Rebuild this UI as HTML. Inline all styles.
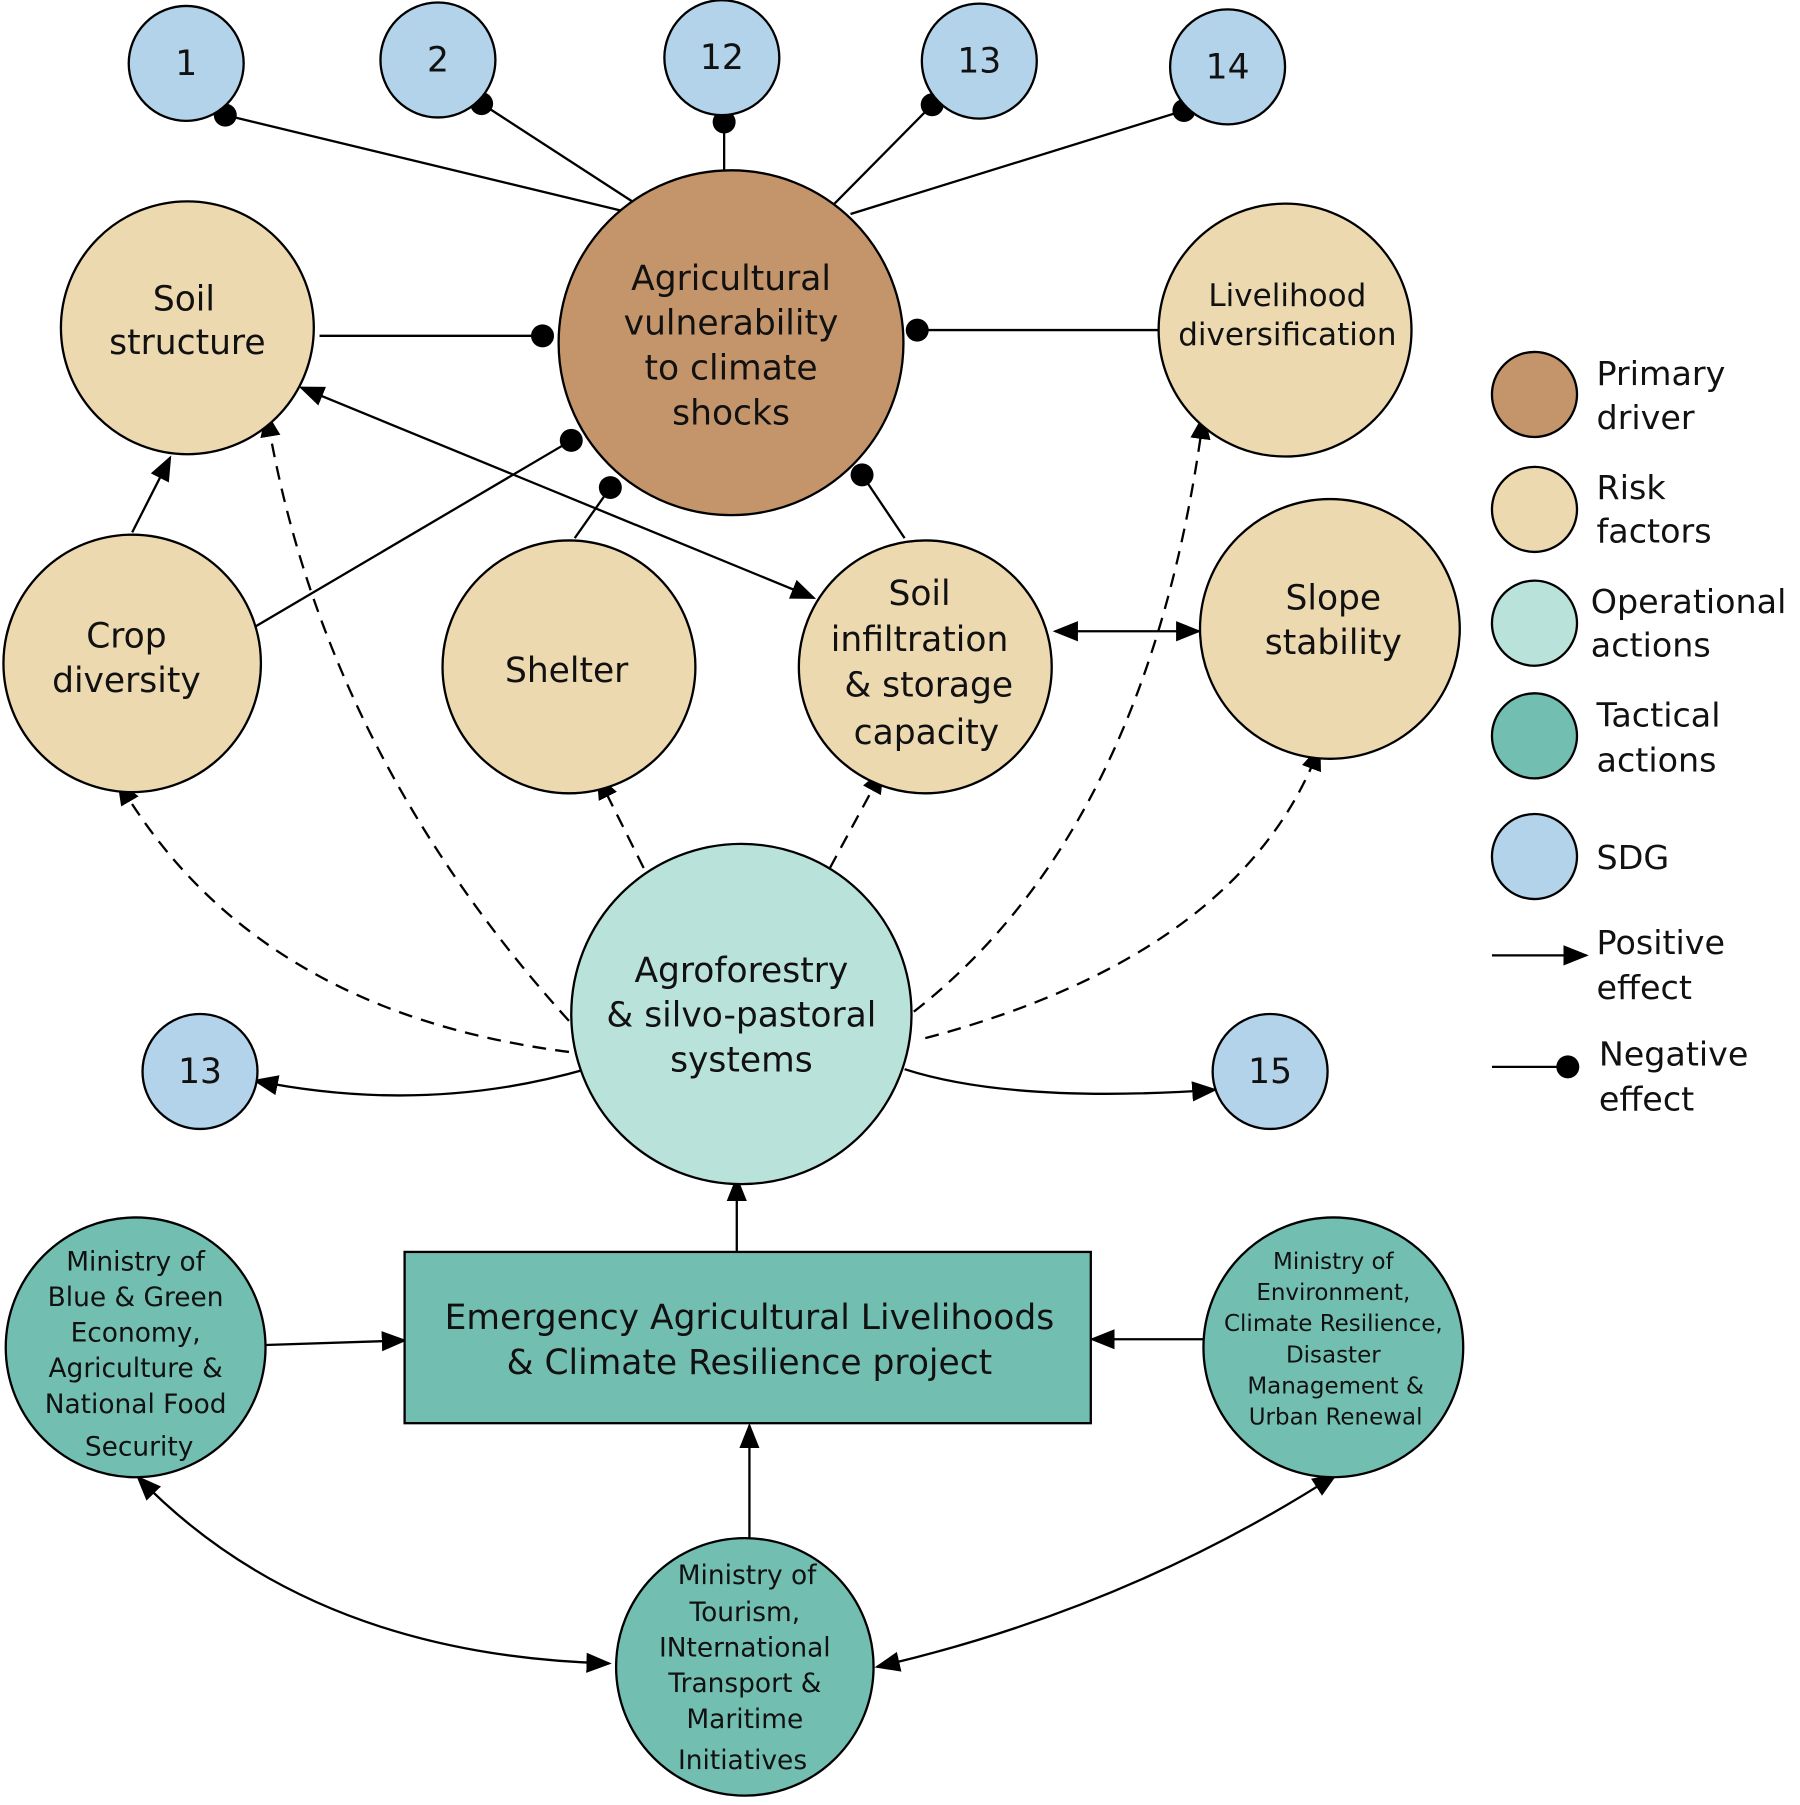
<!DOCTYPE html>
<html><head><meta charset="utf-8"><style>
html,body{margin:0;padding:0;background:#fff;}
svg{display:block;}
text{font-family:"DejaVu Sans","Liberation Sans",sans-serif;fill:#111;text-anchor:middle;}
text.l{text-anchor:start;}
</style></head><body>
<svg width="1800" height="1805" viewBox="0 0 1566 1570" xmlns="http://www.w3.org/2000/svg">
<defs>
<marker id="A" viewBox="0 0 10 10" refX="9" refY="5" markerWidth="22" markerHeight="22" markerUnits="userSpaceOnUse" orient="auto-start-reverse"><path d="M0,1L10,5L0,9z" fill="#000"/></marker>
</defs>
<g stroke="#000" stroke-width="2" fill="none">
<line x1="196" y1="100" x2="540" y2="183"/>
<line x1="419" y1="90" x2="550" y2="175"/>
<line x1="630" y1="106" x2="630" y2="150"/>
<line x1="811" y1="91" x2="725" y2="178"/>
<line x1="1030" y1="96" x2="740" y2="186"/>
<line x1="278" y1="292" x2="472" y2="292"/>
<line x1="1008" y1="287" x2="798" y2="287"/>
<line x1="222" y1="545" x2="497" y2="383"/>
<line x1="500" y1="468" x2="531" y2="424"/>
<line x1="787" y1="468" x2="750" y2="413"/>
<line x1="115" y1="463" x2="148" y2="398" marker-end="url(#A)"/>
<line x1="708" y1="520" x2="262" y2="337" marker-start="url(#A)" marker-end="url(#A)"/>
<line x1="918" y1="549" x2="1043" y2="549" marker-start="url(#A)" marker-end="url(#A)"/>
<path d="M510,930 Q370,970 222,940" marker-end="url(#A)"/>
<path d="M787,930 Q880,960 1057,948" marker-end="url(#A)"/>
<line x1="641" y1="1089" x2="641" y2="1025" marker-end="url(#A)"/>
<line x1="652" y1="1338" x2="652" y2="1240" marker-end="url(#A)"/>
<line x1="231" y1="1170" x2="352" y2="1166" marker-end="url(#A)"/>
<line x1="1047" y1="1165" x2="950" y2="1165" marker-end="url(#A)"/>
<path d="M120,1285 Q270,1440 530,1447" marker-start="url(#A)" marker-end="url(#A)"/>
<path d="M1162,1283 Q980,1400 763,1450" marker-start="url(#A)" marker-end="url(#A)"/>
<g stroke-dasharray="12,8">
<path d="M495,915 Q220,880 103,680" marker-end="url(#A)"/>
<path d="M495,888 Q280,650 232,360" marker-end="url(#A)"/>
<line x1="560" y1="755" x2="520" y2="675" marker-end="url(#A)"/>
<line x1="722" y1="755" x2="768" y2="670" marker-end="url(#A)"/>
<path d="M795,880 Q1000,720 1047,362" marker-end="url(#A)"/>
<path d="M805,903 Q1080,830 1148,650" marker-end="url(#A)"/>
</g>
<line x1="1298" y1="831" x2="1380" y2="831" marker-end="url(#A)"/>
<line x1="1298" y1="928" x2="1362" y2="928"/>
</g>
<g fill="#000">
<circle cx="196" cy="100" r="10"/><circle cx="419" cy="90" r="10"/><circle cx="630" cy="106" r="10"/>
<circle cx="811" cy="91" r="10"/><circle cx="1030" cy="96" r="10"/><circle cx="472" cy="292" r="10"/>
<circle cx="798" cy="287" r="10"/><circle cx="497" cy="383" r="10"/><circle cx="531" cy="424" r="10"/>
<circle cx="750" cy="413" r="10"/><circle cx="1364" cy="928" r="10"/>
</g>
<g stroke="#000" stroke-width="2">
<g fill="#b3d3ea">
<circle cx="162" cy="55" r="50"/><circle cx="381" cy="52" r="50"/><circle cx="628" cy="50" r="50"/>
<circle cx="852" cy="53" r="50"/><circle cx="1068" cy="58" r="50"/>
<circle cx="174" cy="932" r="50"/><circle cx="1105" cy="932" r="50"/>
<circle cx="1335" cy="745" r="37"/>
</g>
<circle cx="636" cy="298" r="150" fill="#c4956a"/>
<g fill="#ecd9b0">
<circle cx="163" cy="285" r="110"/><circle cx="1118" cy="287" r="110"/>
<circle cx="115" cy="577" r="112"/><circle cx="495" cy="580" r="110"/>
<circle cx="805" cy="580" r="110"/><circle cx="1157" cy="547" r="113"/>
<circle cx="1335" cy="443" r="37"/>
</g>
<circle cx="645" cy="882" r="148" fill="#b9e3da"/>
<circle cx="1335" cy="542" r="37" fill="#b9e3da"/>
<g fill="#72bfb2">
<rect x="352" y="1089" width="597" height="149"/>
<circle cx="118" cy="1172" r="113"/><circle cx="1160" cy="1172" r="113"/>
<circle cx="648" cy="1450" r="112"/>
<circle cx="1335" cy="640" r="37"/>
</g>
<circle cx="1335" cy="343" r="37" fill="#c4956a"/>
</g>
<g font-size="30">
<text x="162" y="65">1</text><text x="381" y="62">2</text><text x="628" y="60">12</text>
<text x="852" y="63">13</text><text x="1068" y="68">14</text>
<text x="174" y="942">13</text><text x="1105" y="942">15</text>
<text x="636" y="252">Agricultural</text><text x="636" y="291">vulnerability</text>
<text x="636" y="330">to climate</text><text x="636" y="369">shocks</text>
<text x="160" y="270">Soil</text><text x="163" y="308">structure</text>
<text x="110" y="563">Crop</text><text x="110" y="602">diversity</text>
<text x="493" y="593">Shelter</text>
<text x="800" y="526">Soil</text><text x="800" y="566">infiltration</text>
<text x="808" y="606">&amp; storage</text><text x="806" y="647">capacity</text>
<text x="1160" y="530">Slope</text><text x="1160" y="569">stability</text>
<text x="645" y="854">Agroforestry</text><text x="645" y="893">&amp; silvo-pastoral</text><text x="645" y="932">systems</text>
<text x="652" y="1156">Emergency Agricultural Livelihoods</text>
<text x="652" y="1195">&amp; Climate Resilience project</text>
</g>
<text x="1120" y="266" font-size="27">Livelihood</text><text x="1120" y="300" font-size="27">diversification</text>
<g font-size="23">
<text x="118" y="1105">Ministry of</text><text x="118" y="1136">Blue &amp; Green</text>
<text x="118" y="1167">Economy,</text><text x="118" y="1198">Agriculture &amp;</text>
<text x="118" y="1229">National Food</text><text x="121" y="1266">Security</text>
<text x="650" y="1378">Ministry of</text><text x="648" y="1410">Tourism,</text>
<text x="648" y="1441">INternational</text><text x="648" y="1472">Transport &amp;</text>
<text x="648" y="1503">Maritime</text><text x="646" y="1539">Initiatives</text>
</g>
<g font-size="20">
<text x="1160" y="1104">Ministry of</text><text x="1160" y="1131">Environment,</text>
<text x="1160" y="1158">Climate Resilience,</text><text x="1160" y="1185">Disaster</text>
<text x="1162" y="1212">Management &amp;</text><text x="1162" y="1239">Urban Renewal</text>
</g>
<g font-size="29">
<text class="l" x="1389" y="335">Primary</text><text class="l" x="1389" y="373">driver</text>
<text class="l" x="1389" y="434">Risk</text><text class="l" x="1389" y="472">factors</text>
<text class="l" x="1384" y="533">Operational</text><text class="l" x="1384" y="571">actions</text>
<text class="l" x="1389" y="632">Tactical</text><text class="l" x="1389" y="671">actions</text>
<text class="l" x="1389" y="756">SDG</text>
<text class="l" x="1389" y="830">Positive</text><text class="l" x="1389" y="869">effect</text>
<text class="l" x="1391" y="927">Negative</text><text class="l" x="1391" y="966">effect</text>
</g>
</svg>
</body></html>
